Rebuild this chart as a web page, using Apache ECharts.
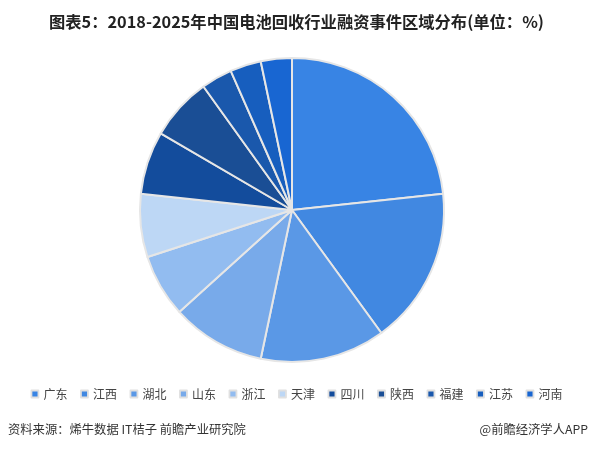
<!DOCTYPE html>
<html><head><meta charset="utf-8">
<script src="https://cdn.jsdelivr.net/npm/echarts@6/dist/echarts.min.js"></script>
<style>html,body{margin:0;padding:0;background:#fff}#c{width:593px;height:450px}</style>
</head><body><div id="c"></div>
<script>
var categories = ['广东','江西','湖北','山东','浙江','天津','四川','陕西','福建','江苏','河南'];
var values = [23.3, 16.7, 13.3, 10.0, 6.7, 6.7, 6.7, 6.7, 3.3, 3.3, 3.3];
var colors = ['#3884E4','#4188E1','#5A98E6','#78AAEA','#92BCF0','#BDD7F5','#134C9C','#1A4E95','#1A58AC','#175EBE','#1866D2'];
var titleText = '图表5：2018-2025年中国电池回收行业融资事件区域分布(单位：%)';
var sourceText = '资料来源：烯牛数据 IT桔子 前瞻产业研究院';
var brandText = '@前瞻经济学人APP';

var chart = echarts.init(document.getElementById('c'), null, {renderer:'canvas'});
chart.setOption({
  animation:false,
  color: colors,
  title:{text:titleText,left:'center',top:9,textStyle:{fontSize:16.3,fontWeight:'bold',color:'#222',fontFamily:'"Noto Sans CJK SC", sans-serif'}},
  legend:{
    left:'center', top:383, itemWidth:7, itemHeight:7, itemGap:12.6,
    icon:'rect',
    textStyle:{fontSize:12,color:'#444',fontFamily:'"Noto Sans CJK SC", sans-serif'},
    itemStyle:{borderColor:'#e0e0e0',borderWidth:1.8},
    data: categories
  },
  graphic:[
    {type:'text',left:8,top:423,style:{text:sourceText,fontSize:12.3,fill:'#333',fontFamily:'"Noto Sans CJK SC", sans-serif'}},
    {type:'text',right:5,top:423,style:{text:brandText,fontSize:12.3,fill:'#333',fontFamily:'"Noto Sans CJK SC", sans-serif'}}
  ],
  series:[{
    type:'pie',
    center:[292,210],
    radius:[0,152],
    startAngle:90,
    clockwise:true,
    label:{show:false},
    labelLine:{show:false},
    itemStyle:{borderColor:'#e6e6e6',borderWidth:2},
    data: categories.map(function(n,i){return {name:n,value:values[i]};})
  }]
});
</script></body></html>
